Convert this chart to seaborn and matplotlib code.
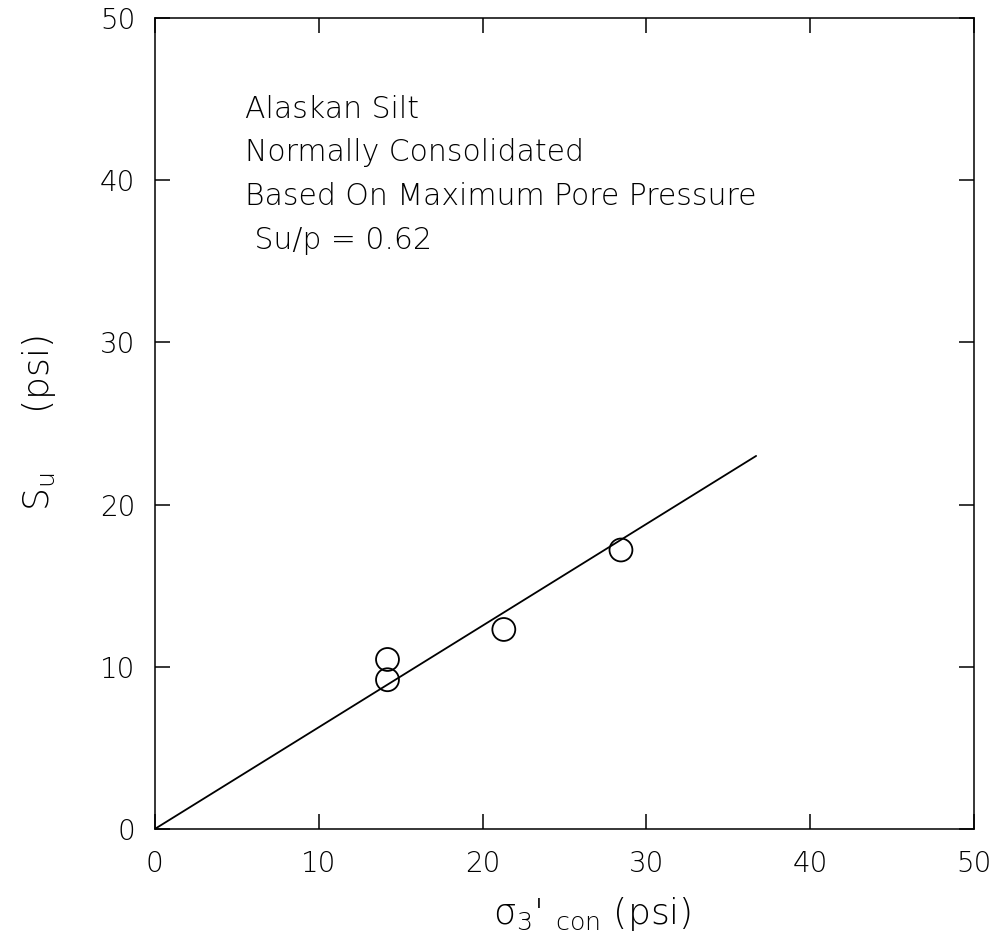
import matplotlib
matplotlib.use("Agg")
import matplotlib.pyplot as plt
import seaborn as sns
import pandas as pd

# Data
sigma3_con = [14.2, 14.2, 21.3, 28.45]
su_values = [10.45, 9.2, 12.3, 17.2]
fit_x = [0.0, 36.7]
fit_y = [0.0, 23.0]
tick_values = [0, 10, 20, 30, 40, 50]
annotation_lines = ["Alaskan Silt", "Normally Consolidated",
                    "Based On Maximum Pore Pressure", " Su/p = 0.62"]

sns.set_theme(style="ticks")
plt.rcParams['font.family'] = ['DejaVu Sans']
plt.rcParams['mathtext.default'] = 'regular'
plt.rcParams['text.color'] = 'black'
plt.rcParams['axes.labelcolor'] = 'black'

fig = plt.figure(figsize=(9.99, 9.49), dpi=100)
ax = fig.add_axes([0.155, 0.1265, 0.82, 0.8545])

pts = pd.DataFrame({"x": sigma3_con, "y": su_values})
fit = pd.DataFrame({"x": fit_x, "y": fit_y})

sns.lineplot(data=fit, x="x", y="y", ax=ax, color="black", linewidth=1.3)
sns.scatterplot(data=pts, x="x", y="y", ax=ax, marker="o", s=16.5**2,
                facecolor="none", edgecolor="black", linewidth=1.3, zorder=3)

ax.set_xlim(0, 50)
ax.set_ylim(0, 50)
ax.set_xticks(tick_values)
ax.set_yticks(tick_values)
ax.set_xticklabels([str(t) for t in tick_values])
ax.set_yticklabels([str(t) for t in tick_values])
ax.tick_params(direction="in", length=10.5, width=1.1, labelsize=20,
               top=True, right=True, colors="black")
ax.tick_params(axis="x", pad=15)
ax.tick_params(axis="y", pad=14)
for lab in ax.get_xticklabels() + ax.get_yticklabels():
    lab.set_fontweight("light")
for sp in ax.spines.values():
    sp.set_visible(True)
    sp.set_linewidth(1.1)
    sp.set_color("black")

ax.set_xlabel(r"$\sigma_3$' ${}_{con}$ (psi)", fontsize=26, fontweight="light")
ax.xaxis.set_label_coords(0.534, -0.082)
ax.set_ylabel(r"$S_u$     (psi)", fontsize=26, fontweight="light")
ax.yaxis.set_label_coords(-0.118, 0.5)

y0 = (829 - 109) / 811
for i, line in enumerate(annotation_lines):
    ax.text(0.11, y0 - i * 0.0539, line, transform=ax.transAxes,
            fontsize=21.5, va="center", ha="left", color="black",
            fontweight="light")

fig.savefig("out.png", dpi=100)
